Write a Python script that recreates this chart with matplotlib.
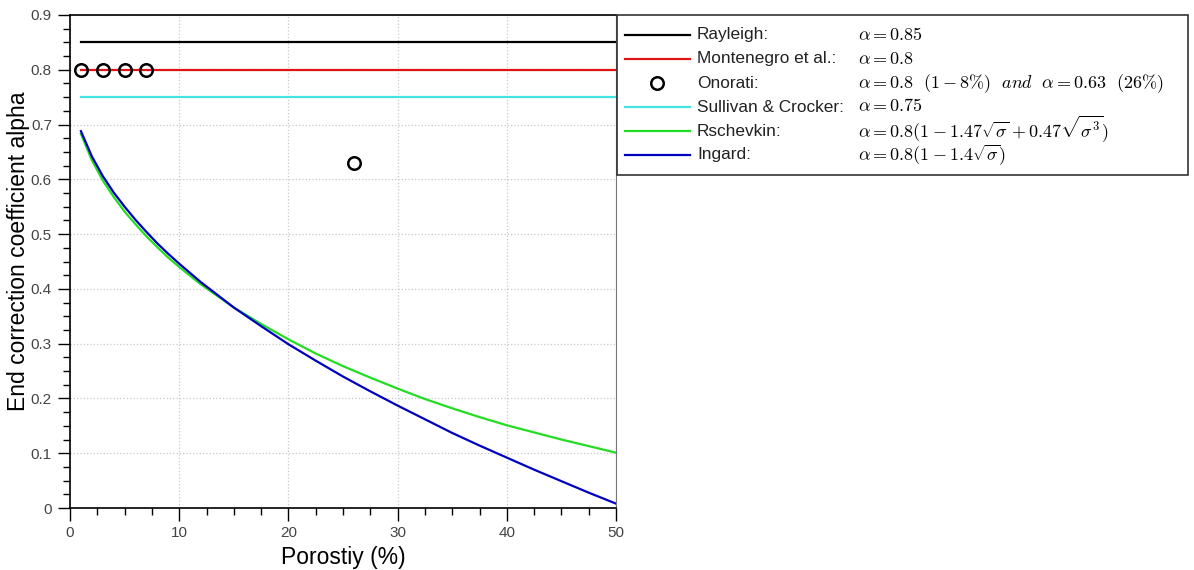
import numpy as np
import matplotlib
matplotlib.use("Agg")
import matplotlib.pyplot as plt
from matplotlib.lines import Line2D
from matplotlib.patches import Rectangle
from matplotlib.ticker import MultipleLocator

plt.rcParams['font.family'] = ['Liberation Sans', 'DejaVu Sans']
plt.rcParams['mathtext.fontset'] = 'cm'

# porosity (%) and values
porosity = [1, 2, 3, 4, 5, 6, 7, 8, 9, 10, 12, 15, 17.5, 20, 22.5, 25, 27.5, 30,
            32.5, 35, 37.5, 40, 42.5, 45, 47.5, 50]
ingard = [0.688, 0.642, 0.606, 0.576, 0.550, 0.526, 0.504, 0.483, 0.464, 0.446,
          0.412, 0.366, 0.332, 0.299, 0.269, 0.240, 0.213, 0.187, 0.162, 0.137,
          0.114, 0.092, 0.070, 0.049, 0.028, 0.008]
rschevkin = [0.683, 0.635, 0.598, 0.568, 0.541, 0.518, 0.496, 0.476, 0.457, 0.440,
             0.408, 0.366, 0.336, 0.308, 0.282, 0.259, 0.238, 0.218, 0.199, 0.182,
             0.166, 0.151, 0.138, 0.125, 0.113, 0.101]

const_x = [1, 50]
rayleigh = 0.85
montenegro = 0.8
sullivan = 0.75

onorati_x = [1, 3, 5, 7, 26]
onorati_y = [0.8, 0.8, 0.8, 0.8, 0.63]

names = ["Rayleigh:", "Montenegro et al.:", "Onorati:", "Sullivan & Crocker:",
         "Rschevkin:", "Ingard:"]
formulas = [r"$\alpha = 0.85$",
            r"$\alpha = 0.8$",
            r"$\alpha = 0.8\ \ (1-8\%)\ \ and\ \ \alpha = 0.63\ \ (26\%)$",
            r"$\alpha = 0.75$",
            r"$\alpha = 0.8(1-1.47\sqrt{\sigma}+0.47\sqrt{\sigma^3})$",
            r"$\alpha = 0.8(1-1.4\sqrt{\sigma})$"]
colors = ["black", "#e01414", None, "#44e4e4", "#22dd22", "#0000c0"]

W, H = 1194, 570
fig = plt.figure(figsize=(W / 100, H / 100), dpi=100)
ax = fig.add_axes([70 / W, 1 - 508 / H, (616 - 70) / W, (508 - 15) / H])

lw = 1.6
ax.plot(const_x, [rayleigh] * 2, color=colors[0], lw=lw)
ax.plot(const_x, [montenegro] * 2, color=colors[1], lw=lw)
ax.plot(const_x, [sullivan] * 2, color=colors[3], lw=lw)
ax.plot(porosity, rschevkin, color=colors[4], lw=lw)
ax.plot(porosity, ingard, color=colors[5], lw=lw)
ax.plot(onorati_x, onorati_y, linestyle='', marker='o', markersize=9,
        markerfacecolor='none', markeredgecolor='black', markeredgewidth=1.8)

ax.set_xlim(0, 50)
ax.set_ylim(0, 0.9)
ax.xaxis.set_major_locator(MultipleLocator(10))
ax.xaxis.set_minor_locator(MultipleLocator(2.5))
ax.yaxis.set_minor_locator(MultipleLocator(0.025))
ax.set_yticks(np.arange(0, 0.91, 0.1))
ax.set_yticklabels(["0"] + ["%.1f" % v for v in np.arange(0.1, 0.91, 0.1)])
ax.tick_params(which='major', direction='out', length=9, width=1,
               labelsize=11, labelcolor='#444444', pad=4)
ax.tick_params(which='minor', direction='out', length=5, width=1)
ax.grid(True, which='major', linestyle=':', color='#c8c8c8', lw=0.9)
for side in ['left', 'bottom', 'top']:
    ax.spines[side].set_linewidth(1.2)
ax.spines['right'].set_color('#777777')

ax.set_xlabel("Porostiy (%)", fontsize=16.5)
ax.set_ylabel("End correction coefficient alpha", fontsize=16.5)
ax.xaxis.set_label_coords(0.5, -0.077)
ax.yaxis.set_label_coords(-0.074, 0.52)

# legend box drawn in figure pixels
fig.add_artist(Rectangle((617 / W, 1 - 175 / H), (1188 - 617) / W, 160 / H,
                         transform=fig.transFigure, fill=False,
                         edgecolor='#333333', lw=1.2))
row_y = [35, 59, 83, 107, 131, 155]
base_y = [40, 64, 88, 111, 137, 160]
for name, formula, c, y, by in zip(names, formulas, colors, row_y, base_y):
    fy = 1 - y / H
    if c is None:
        fig.add_artist(Line2D([657 / W], [fy], transform=fig.transFigure,
                              linestyle='', marker='o', markersize=9,
                              markerfacecolor='none', markeredgecolor='black',
                              markeredgewidth=1.8))
    else:
        fig.add_artist(Line2D([625 / W, 690 / W], [fy, fy], transform=fig.transFigure,
                              color=c, lw=lw))
    fig.text(697 / W, fy, name, fontsize=12.4, va='center', ha='left', color='#222222')
    fig.text(858 / W, 1 - by / H, formula, fontsize=13, va='baseline', ha='left')

fig.savefig("out.png", dpi=100)
